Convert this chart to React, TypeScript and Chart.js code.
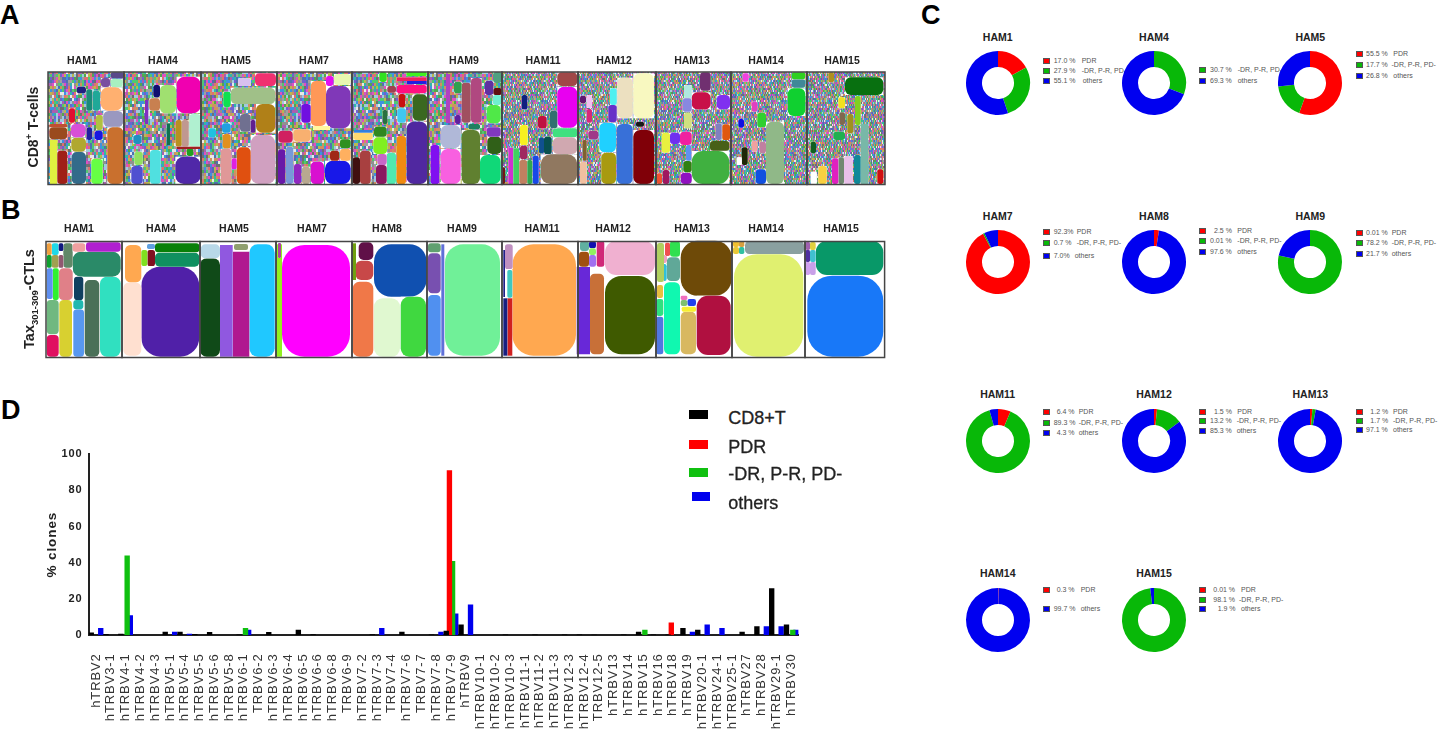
import React, { useEffect, useRef } from "react";
import { Chart, registerables } from "chart.js";

Chart.register(...registerables);

const FONT = '"Liberation Sans", Arial, sans-serif';

/* ---------- Panel D: TRBV usage ---------- */
const trbvLabels = ["hTRBV2","hTRBV3-1","hTRBV4-1","hTRBV4-2","hTRBV4-3","hTRBV5-1","hTRBV5-4","hTRBV5-5","hTRBV5-6","hTRBV5-8","hTRBV6-1","TRBV6-2","hTRBV6-3","hTRBV6-4","hTRBV6-5","hTRBV6-6","hTRBV6-8","TRBV6-9","hTRBV7-2","hTRBV7-3","TRBV7-4","hTRBV7-6","TRBV7-7","hTRBV7-8","hTRBV7-9","hTRBV9","hTRBV10-1","hTRBV10-2","hTRBV10-3","hTRBV11-1","hTRBV11-2","hTRBV11-3","hTRBV12-3","hTRBV12-4","TRBV12-5","hTRBV13","hTRBV14","hTRBV15","hTRBV16","hTRBV18","hTRBV19","hTRBV20-1","hTRBV24-1","hTRBV25-1","hTRBV27","hTRBV28","hTRBV29-1","hTRBV30"];
const cd8Values =   [1.5,0.7,0.8,0,0,2,2,0.7,1.8,0,0.5,0,1.8,0,3,0.6,0,0,0,0.6,0,2,0,0.5,2.5,6,0,0,0.5,0,0.5,0,0.5,0.5,0.3,0,0.5,2,0.5,0.5,4,3,0,0,2,5,26,6];
const pdrValues =   [0,0,0,0,0,0,0,0,0,0,0,0,0,0,0,0,0,0,0,0,0,0,0,0,91,0,0,0,0,0,0,0,0,0,0,0,0,0,0,7,0,0,0,0,0,0,0,0];
const drValues =    [0,0,44,0,0,0,0,0,0,0,4,0,0,0,0,0,0,0,0,0,0,0,0,0,41,0,0,0,0,0,0,0,0,0,0,0,0,3,0,0,0,0,0,0,0,0,0,3];
const otherValues = [4,0,11,0,0,2,0.8,0,0,0,3,0,0,0,0,0,0,0,0,4,0,0,0,2,12,17,0,0,0,0,0,0,0,0,0,0,0,0,0,0,2,6,4,0,0,5,5,3];
const yTicks = [0, 20, 40, 60, 80, 100];
const seriesNames = ["CD8+T", "PDR", "-DR, P-R, PD-", "others"];
const seriesColors = ["#000000", "#ff0000", "#10c010", "#0000ee"];

/* ---------- Panel C: donuts ---------- */
const hamNames = ["HAM1","HAM4","HAM5","HAM7","HAM8","HAM9","HAM11","HAM12","HAM13","HAM14","HAM15"];
const pdrShare =   [17.0,0,55.5,92.3,2.5,0.01,6.4,1.5,1.2,0.3,0.01];
const drShare =    [27.9,30.7,17.7,0.7,0.01,78.2,89.3,13.2,1.7,0,98.1];
const otherShare = [55.1,69.3,26.8,7.0,97.6,21.7,4.3,85.3,97.1,99.7,1.9];
const donutSeries = ["PDR", "-DR, P-R, PD-", "others"];
const donutColors = ["#ff0000", "#08b808", "#0000f0"];
const donutLegendValues = [
  ["17.0 %","27.9 %","55.1 %"],[null,"30.7 %","69.3 %"],["55.5 %","17.7 %","26.8 %"],
  ["92.3%","0.7 %","7.0%"],["2.5 %","0.01 %","97.6 %"],["0.01 %","78.2 %","21.7 %"],
  ["6.4 %","89.3 %","4.3 %"],["1.5 %","13.2 %","85.3 %"],["1.2 %","1.7 %","97.1 %"],
  ["0.3 %",null,"99.7 %"],["0.01 %","98.1 %","1.9 %"],
];
const donutLayout = [
  { cx: 997.7, cy: 83.3, ty: 36.7, sq: 1042.7, val: [1053.7,1053.7,1053.7], lab: [1081.7,1081.7,1082.7], rows: [61.3,71.3,81.3] },
  { cx: 1154, cy: 83.3, ty: 36.7, sq: 1199.3, val: [1210,1210,1210], lab: [1237.7,1237.7,1237.7], rows: [0,70.3,81] },
  { cx: 1310.3, cy: 83.3, ty: 36.7, sq: 1355.7, val: [1366,1366,1366], lab: [1393.3,1391.5,1393.3], rows: [54,64.7,76.3] },
  { cx: 997.7, cy: 262.3, ty: 215.7, sq: 1042.7, val: [1053.7,1053.7,1053.7], lab: [1076.7,1076.7,1074.7], rows: [232,243.3,255.7] },
  { cx: 1154, cy: 262.3, ty: 215.7, sq: 1199.3, val: [1214,1210,1210], lab: [1237.3,1237.3,1237.3], rows: [230.7,241,251.7] },
  { cx: 1310.3, cy: 262.3, ty: 215.7, sq: 1355.7, val: [1366,1366,1366], lab: [1391.7,1391.7,1391.7], rows: [232.7,243.3,254] },
  { cx: 997.7, cy: 441, ty: 394, sq: 1042.7, val: [1056.7,1053.7,1056.7], lab: [1078.7,1078.7,1078.7], rows: [412.3,422.7,433.3] },
  { cx: 1154, cy: 441, ty: 394, sq: 1199.3, val: [1214,1210,1210], lab: [1237.3,1236.7,1236.7], rows: [412,421.3,430.7] },
  { cx: 1310.3, cy: 441, ty: 394, sq: 1355.7, val: [1370.3,1370.3,1366], lab: [1393,1393,1393], rows: [412,421,430.3] },
  { cx: 997.7, cy: 620, ty: 572.7, sq: 1042.7, val: [1056.7,1053.7,1053.7], lab: [1080.7,1080.7,1080.7], rows: [590,0,609.3] },
  { cx: 1154, cy: 620, ty: 572.7, sq: 1199.3, val: [1213.3,1213.3,1217.7], lab: [1241,1239,1241], rows: [590,599.7,609.3] },
];

/* ---------- Panels A and B: treemap tiles [x0, y0, x1, y1, colour] ---------- */
type Tile = [number, number, number, number, string];

const a_HAM1: Tile[] = [[110.7,72.3,124,78.3,"#5a4a8a"],[101,78,110,87,"#7a4fa0"],[110.7,79,122.7,87.3,"#a8f0c0"],[100.7,87.3,122.7,110.7,"#ffb070"],[103.3,111,123.3,126.7,"#9a98c0"],[107.3,127.3,123.3,184,"#c9702e"],[49.3,124,67.3,128,"#c05030"],[49.3,127.3,67.3,139.3,"#9a4a1e"],[50,140,57.3,184,"#e0f040"],[57.3,150.7,67.3,184,"#a02018"],[71.7,152,86,184,"#336b8a"],[91.3,158.7,102.7,184,"#66ff44"],[71.3,137.7,86,151.7,"#b0a830"],[71,124,85.3,137.3,"#d850d8"],[86.3,89.3,92.3,110.7,"#1a8a78"],[92.7,90.7,100,110.7,"#20a898"],[69,108.3,75,122.7,"#e01030"],[86.7,127.3,92,140,"#2020a0"],[94.7,130.7,102.7,140,"#1818e0"],[76.7,86.7,86,93.3,"#202080"],[96,115,102.7,130,"#b0c040"]];
const a_HAM4: Tile[] = [[176.7,76.7,200.7,113.3,"#f000b0"],[160,85,176,113.3,"#a0e070"],[153.3,85,160,97.3,"#101070"],[149.3,98.3,160,110.7,"#c88050"],[189.3,114,200.7,146.7,"#b0f0d0"],[181.7,120,188.7,146.7,"#c09890"],[175.7,120,181.7,146.7,"#b89020"],[175.3,156.7,200.7,184,"#5028a8"],[150,150,160.7,184,"#50e0e0"],[131.3,166,142.7,184,"#5050d0"],[134.3,151.7,142.7,165,"#90e060"],[133.3,135,141.7,144,"#2090c0"],[145,100,148.3,124,"#8030c0"],[166.7,123.3,170,145,"#107050"],[186.7,148.3,193.3,156,"#20a020"],[176.7,146.7,200.7,149,"#a02020"]];
const a_HAM5: Tile[] = [[255,73.3,276,86,"#f03070"],[230.7,87.7,275.3,104,"#a0c088"],[256,104,275.3,132.7,"#b08018"],[250.7,135,275.3,184,"#d0a0c0"],[236.7,147.3,250.7,184,"#e05010"],[220.7,148.7,231.3,184,"#e09898"],[240,114,250.7,131.7,"#707090"],[222.7,134,230.7,148.3,"#e09020"],[223.3,91.7,230.7,107.3,"#10e050"],[238.3,78.3,250.7,86,"#d8c0f0"],[208.3,128.3,216,137.3,"#20c0e0"],[222,123.3,230.7,132.7,"#20a0e0"],[231.7,158.3,236.7,169.3,"#e020e0"],[250.7,120,255.3,132.7,"#602090"]];
const a_HAM7: Tile[] = [[326,86,350.7,128.3,"#8038b8"],[310.7,81,326,126,"#ff9858"],[334,74,350.7,85,"#e8f8b0"],[326,76,333.3,86,"#e010f0"],[301.3,104,310.7,122.7,"#7010e0"],[293.3,129.3,310.7,141.7,"#f8b070"],[325,160.7,350.7,184,"#1818e8"],[310.7,161.7,324,184,"#d810d0"],[294,164,301.3,184,"#9028c0"],[278,149.3,285.3,184,"#6818a8"],[286,146.7,293.3,184,"#7898d8"],[302,166.7,310,184,"#b8a890"],[330,150.7,339.3,160.7,"#a02818"],[340,148.7,350.7,160.7,"#ffb060"],[340,139.3,350.7,148,"#309020"],[278.3,130.7,292.7,142.7,"#d02060"],[313,126,330,130,"#fff8a0"]];
const a_HAM8: Tile[] = [[396.7,85,426.7,93.3,"#ff1080"],[406.7,72,426.7,76,"#40f020"],[396.7,77.3,426.7,81,"#f02060"],[406.7,81,426.7,84,"#2020e0"],[412.7,94.3,427.3,120.7,"#3a6820"],[406.7,121.7,427.3,184,"#5028a0"],[396.7,136,406,184,"#f08a10"],[386.7,152.7,396,184,"#50e8b0"],[376,165,386.7,184,"#8a1860"],[377.3,154,386.7,165,"#c868c8"],[373.3,137.3,387.3,154,"#80f020"],[374,126.7,386.7,136.7,"#308820"],[360,150.7,370.7,184,"#a84040"],[352.7,157.3,360,184,"#401010"],[353.3,132.7,372.7,140,"#ffd870"],[354,130,372.7,132.7,"#3080e0"],[397.3,108.3,406,122.7,"#40c8f0"],[398.7,94,405.3,107.3,"#c81010"],[379.3,72,386.7,82,"#30e020"],[387.3,86,396,92.7,"#a04050"],[382.7,110,387.3,124,"#2a7040"]];
const a_HAM9: Tile[] = [[461.7,82.7,470.7,122.7,"#a05060"],[471,78,481.7,122.7,"#b04880"],[486.7,105,500.7,123.3,"#50e848"],[493,72,502,83,"#50a080"],[493,88,502,95,"#601010"],[485,80.7,493.3,95,"#6030a0"],[492.7,95,501.7,105,"#70f0d0"],[461.7,130,480,184,"#608030"],[480,155,500.7,184,"#10d878"],[487.3,136.7,501.7,154,"#306018"],[486.7,127.3,500.7,136.7,"#8038c0"],[440.7,149,460.7,184,"#f860e0"],[440.7,125,460.7,148.3,"#b0b8d8"],[430.7,145,439.3,184,"#8010f0"],[446,74,450,123,"#b040c0"],[454,81.7,461.7,93.3,"#30a050"],[455,115,460.7,124,"#6020a0"],[468.3,124,480,129.3,"#208060"]];
const a_HAM11: Tile[] = [[557.3,72.3,577.3,86,"#a04848"],[557.3,86.7,577.3,127.7,"#e800f0"],[552.7,128.3,577.3,137.3,"#40e080"],[552.7,137.3,577.3,154,"#d0a8b0"],[540.7,154.3,577.3,184,"#907860"],[532.7,155.7,538.7,184,"#1848e8"],[519.3,160,527.3,184,"#c08060"],[527.3,160,532.3,184,"#30a850"],[520,125,527.7,145,"#f8f020"],[520,145.7,527.3,159.3,"#a02860"],[508.3,147.7,513.3,184,"#d030d0"],[513.3,148.3,519,184,"#40d060"],[502,167.3,505,184,"#701818"],[521.7,95,527.3,109.3,"#102080"],[538,116,546.7,128.3,"#c01040"],[550,110.7,557.3,128.3,"#307070"],[544,136.7,551.7,154,"#085050"],[539,137.3,544,153.3,"#105090"]];
const a_HAM12: Tile[] = [[633.3,73.3,654,118.3,"#f8f8c0"],[617.3,77.7,632.7,118.3,"#ece0c0"],[633.3,130,654,184,"#800008"],[616.7,124,632.7,184,"#3870d8"],[599.3,122.7,616,152.3,"#20d0ff"],[601.3,152.7,616,184,"#a89a10"],[608.3,105,616.7,122.3,"#6830c8"],[580,161.7,586.7,184,"#f0c0a0"],[580,95.7,586,103.3,"#601870"],[586.7,109,592,122.7,"#d82878"],[586.7,95,592,108,"#f0c0f0"],[588.3,130.7,598.3,139.3,"#a03888"],[582.7,140,586.7,160.7,"#806030"],[610,88.3,616.7,105,"#50f0f0"],[636,121.7,644,126.7,"#181818"]];
const a_HAM13: Tile[] = [[691.7,151,729.3,184,"#40b040"],[710,141,729.3,150.7,"#486018"],[722.3,124.3,730,140,"#e05810"],[715.7,123.3,721.7,140,"#8080c0"],[716.7,95,730,109.3,"#8030f0"],[691.7,92.3,710.7,109.3,"#c81048"],[700,72.3,710.7,90.7,"#703070"],[682.7,98.3,691.7,111.7,"#8888e0"],[684,85,691.7,97.7,"#b0e8e0"],[684,112.7,691.7,128.3,"#d0e080"],[680,131.7,691.7,145,"#f020a0"],[670,132.7,680,144,"#7030f0"],[661.7,132.7,670,152.7,"#e8f040"],[680.7,172.7,691.7,184,"#9010c0"],[683.3,161,691.7,172.3,"#308010"],[686,145,691.3,160.7,"#6090f0"],[662.7,170,669.3,184,"#a01860"],[656.7,173.3,662,184,"#f05030"]];
const a_HAM14: Tile[] = [[766,121.7,784,184,"#90b888"],[787.7,88.3,805.3,116,"#10d030"],[791.7,79.3,805.3,87.7,"#408898"],[791.7,72.3,805.3,79.3,"#30d020"],[757.3,112.7,766,127.3,"#30d030"],[755.7,169.3,766,184,"#1050e0"],[741.7,147.3,747.7,165,"#202808"],[738.3,119,744,127.7,"#1010e0"],[742.7,73.3,748.7,81.7,"#f040e0"],[751.7,101.7,757.3,111.7,"#e040c0"],[751.7,140.7,757.3,151.7,"#f0a0a0"],[759.3,141.7,766,153.3,"#c080a0"],[736.7,157.3,741.7,165,"#ffffff"]];
const a_HAM15: Tile[] = [[845,77.3,883.3,95,"#087010"],[855,96,860.7,125,"#80d020"],[860.7,124,868.3,184,"#78b8a8"],[854,155,860.7,184,"#108898"],[844,156,852.7,184,"#e8c0e8"],[838.3,157.3,844,184,"#708870"],[832,158.3,838.3,184,"#e020c0"],[818.3,166,826.7,184,"#f8d040"],[810.7,171.7,816.7,184,"#ffffff"],[877.3,169.3,883.3,184,"#d01010"],[833.3,131.7,845,140,"#20b050"],[810.7,141.7,816,153.3,"#106020"],[838.3,97.3,845,108.3,"#f0e020"],[847.3,114,853.3,133.3,"#a09020"],[839.3,112.3,845,125,"#806850"],[828.3,72.3,834,82.3,"#b09020"]];

const b_HAM1: Tile[] = [[100,276.7,120.7,356.7,"#30e0c0"],[84.7,280,99.3,356.7,"#4a7058"],[73.3,309.3,84,356.7,"#5898f0"],[59.3,300,72,356.7,"#d8d030"],[46.7,335,58.7,356.7,"#e01060"],[46.7,300,58.7,334.3,"#70b880"],[72.7,251.7,120.7,276.7,"#2a8a68"],[86,242.3,120.7,251.7,"#b020d0"],[58.7,268.3,72.7,300,"#e08088"],[52.7,268.3,58.7,300,"#30f030"],[46.7,268.3,52.7,299,"#6090f0"],[74,276.7,83.3,300,"#104060"],[73.3,300,83.3,309.3,"#20b8b0"],[63.3,243.3,72.7,267.7,"#608868"],[72.7,243.3,85.3,251.7,"#f0a0a0"],[51.7,255,58.7,267.7,"#a0a050"],[46.7,255,51.7,267.7,"#10a030"],[51.7,243.3,58.7,255,"#20d8e8"],[46.7,243.3,51.7,255,"#f0a040"],[58.7,243.3,63.3,251,"#101880"],[58.7,255,63.3,267.7,"#905870"]];
const b_HAM4: Tile[] = [[141.3,266.7,199.3,356.7,"#5020a8"],[123.3,282.3,141.3,355.7,"#ffe0d0"],[125,245,141.3,282.3,"#ffa850"],[155,252.7,199.3,266.7,"#109060"],[155,243.3,199.3,252.3,"#088008"],[147.3,250,155,266,"#801020"],[141.3,250,147.3,266,"#80e020"],[147,244,155,249,"#60a0e0"]];
const b_HAM5: Tile[] = [[249.3,244.3,274.7,356.7,"#20c8ff"],[232.7,251.7,249.3,356.7,"#b01890"],[220,245,232.7,356.7,"#9058e0"],[200,258.3,220,356.7,"#104a18"],[200.7,244.3,220,258.3,"#b8d8e8"],[234,244,248,250,"#90a070"]];
const b_HAM7: Tile[] = [[282,245,350,356.7,"#ff00ff"],[276,244.3,282,356.7,"#90f020"],[278,243,281,258,"#b040a0"]];
const b_HAM8: Tile[] = [[374,244.3,426.7,296.7,"#1050b0"],[358.7,242.3,373.3,260,"#601048"],[355.3,260.7,373.3,280,"#c84848"],[352.7,281.7,373.3,356.7,"#f07848"],[374,298.3,400,356.7,"#e0f8d0"],[400.7,296.7,426,356.7,"#40d840"],[352,243.3,356,280,"#70a010"]];
const b_HAM9: Tile[] = [[445,244.3,500,355.7,"#70f098"],[428,295,440.7,355.7,"#5090f0"],[428,253.3,440.7,293.3,"#7850b0"],[428,243.3,440.7,252.3,"#60a070"],[441.3,244.3,444.3,355.7,"#6070d8"]];
const b_HAM11: Tile[] = [[512.3,244.3,576,355.7,"#ffa850"],[507.3,298.3,512.3,355.7,"#d02020"],[503.3,298.3,507.3,355.7,"#182080"],[507.3,270,512.3,297.7,"#40c8c0"],[505,244.3,512.7,269,"#c090c0"],[503.3,250,505,297,"#202088"]];
const b_HAM12: Tile[] = [[605,276,655,354.3,"#3f5a00"],[605,241,655,275,"#f0b0d0"],[590,273.7,604,354.3,"#c87038"],[576.7,266.7,590,354.3,"#6828d8"],[596.7,241,604.3,266.7,"#d02878"],[579,251.7,589,266.7,"#a05010"],[589,255,596,266.7,"#a070f0"],[589,241,596,248.3,"#1010b0"],[589,248.3,596,255,"#90f060"],[580,241,589,251,"#60b0a0"]];
const b_HAM13: Tile[] = [[680.7,240.7,731.7,295.7,"#6e4a08"],[696.7,295.7,730.7,355,"#b01040"],[680.7,311.7,696,354.3,"#d8b860"],[681.7,306.7,696,311.7,"#f8f030"],[664,282.3,680,354.3,"#10f8b0"],[656,316.7,663.3,354.3,"#5078e0"],[656,299,663.3,316,"#30e080"],[666.7,257.3,680,281,"#60a898"],[670,241,680,256.7,"#30e050"],[660,264,666.7,281,"#30c0d8"],[660,255,667,263,"#f0a0c0"],[665,242.7,670,256,"#f05050"],[687.3,299,696,306,"#2040f0"],[680.7,300,687.3,306,"#80c070"],[680.7,295.7,687.3,300,"#f070c0"],[657,243,664,282,"#b0d060"],[657,285,663,298,"#e8c040"]];
const b_HAM14: Tile[] = [[734,254.3,803.3,356.7,"#e0f070"],[745,241,804,254,"#8aa0a0"],[733,241,739,247,"#f0c030"],[739,241,744.3,247,"#d8a040"],[733,247,739,254,"#e8c838"],[739,247,744.3,254,"#30c0a0"]];
const b_HAM15: Tile[] = [[807.3,275.7,883.3,356.7,"#1878f8"],[815.7,241,883.3,275,"#089868"],[805.5,242,810,250,"#a060b0"],[810,242,815.7,250,"#e0d040"],[805.5,250,810,262,"#5030a0"],[810,250,815.7,262,"#40c0d0"],[805.5,262,810,275,"#d0a0f0"],[810,262,815.7,275,"#c8a0e8"]];

const rowA = [a_HAM1,a_HAM4,a_HAM5,a_HAM7,a_HAM8,a_HAM9,a_HAM11,a_HAM12,a_HAM13,a_HAM14,a_HAM15];
const rowB = [b_HAM1,b_HAM4,b_HAM5,b_HAM7,b_HAM8,b_HAM9,b_HAM11,b_HAM12,b_HAM13,b_HAM14,b_HAM15];
const rowAEdges = [48,124,201,277,352,428,502,578,656,731,807,885];
const rowBEdges = [46,122,200,276,352,427,502,578,656,732,805,884.6];
const rowATitleX = [82,163,236,314,388,464,543,614,692,766,842];
const rowBTitleX = [79,161,234,312,387,462,542,613,692,766,841];
const rowATexture = ["coarse","coarse","coarse","coarse","coarse","coarse","fine","fine","fine","fine","fine"];

/* texture standing in for the thousands of unreadable tiny clones: a style, not data */
const mosaicPalette = ["#e050c0","#4090e0","#50c870","#a0a0a0","#d09060","#7060d0","#30b8a8","#e8e8e8","#b8b850","#909090","#e07070","#5070b0","#a860b0","#50a850","#a0c8e0","#707070"];
function makeTexture(cw: number, ch: number, blur: number) {
  const size = 120;
  const c = document.createElement("canvas");
  c.width = size; c.height = size;
  const g = c.getContext("2d")!;
  g.filter = `blur(${blur}px)`;
  let s = 20231;
  for (let y = 0; y < size; y += ch) {
    for (let x = 0; x < size; x += cw) {
      s = (s * 1103515245 + 12345) & 0x7fffffff;
      g.fillStyle = mosaicPalette[(s >> 16) & 15];
      g.fillRect(x, y, cw, ch);
    }
  }
  return c;
}

const tilePlugin = {
  id: "tiles",
  beforeDatasetsDraw(chart: any) {
    const ctx = chart.ctx;
    const sx = chart.scales.x, sy = chart.scales.y;
    const o = chart.options.plugins.tiles;
    ctx.save();
    chart.data.datasets.forEach((ds: any, i: number) => {
      const px0 = sx.getPixelForValue(o.edges[i]);
      const px1 = sx.getPixelForValue(o.edges[i + 1]);
      const top = sy.getPixelForValue(o.top);
      const bottom = sy.getPixelForValue(o.bottom);
      if (o.textures) {
        ctx.fillStyle = ctx.createPattern(o.textures[o.kinds[i]], "repeat");
        ctx.fillRect(px0, top, px1 - px0, bottom - top);
      }
      ds.data.forEach((t: any) => {
        const x = sx.getPixelForValue(t.a), y = sy.getPixelForValue(t.b);
        const w = sx.getPixelForValue(t.c) - x, h = sy.getPixelForValue(t.d) - y;
        const short = Math.min(w, h), long = Math.max(w, h);
        ctx.fillStyle = "#ffffff";
        ctx.fillRect(x, y, w, h);
        ctx.fillStyle = t.col;
        ctx.beginPath();
        ctx.roundRect(x, y, w, h, long / short > 6 ? 0 : short * 0.33);
        ctx.fill();
      });
    });
    ctx.strokeStyle = "#454545";
    ctx.lineWidth = 1.5;
    for (let i = 0; i < o.names.length; i++) {
      const px0 = sx.getPixelForValue(o.edges[i]);
      const px1 = sx.getPixelForValue(o.edges[i + 1]);
      const top = sy.getPixelForValue(o.top);
      const bottom = sy.getPixelForValue(o.bottom);
      ctx.strokeRect(px0, top, px1 - px0, bottom - top);
    }
    ctx.fillStyle = "#222";
    ctx.font = `bold 10.5px ${FONT}`;
    ctx.textAlign = "center";
    ctx.textBaseline = "middle";
    o.names.forEach((n: string, i: number) => {
      ctx.fillText(n, sx.getPixelForValue(o.titleX[i]), sy.getPixelForValue(o.titleY));
    });
    ctx.restore();
  },
};

function TreemapRow(props: { rows: Tile[][]; edges: number[]; titleX: number[]; titleY: number; top: number; bottom: number; yMin: number; yMax: number; textured: boolean }) {
  const ref = useRef<HTMLCanvasElement>(null);
  useEffect(() => {
    const textures = props.textured ? { coarse: makeTexture(2, 3, 0.6), fine: makeTexture(1, 2, 0.7) } : null;
    const chart = new Chart(ref.current!, {
      type: "scatter",
      plugins: [tilePlugin as any],
      data: {
        datasets: props.rows.map((tiles, i) => ({
          label: hamNames[i],
          data: tiles.map(([a, b, c, d, col]) => ({ x: (a + c) / 2, y: (b + d) / 2, a, b, c, d, col })),
          pointRadius: 0,
        })) as any,
      },
      options: {
        responsive: false,
        animation: false,
        layout: { padding: 0 },
        events: [],
        scales: {
          x: { type: "linear", display: false, min: 0, max: 900 },
          y: { type: "linear", display: false, min: props.yMin, max: props.yMax, reverse: true },
        },
        plugins: {
          legend: { display: false },
          tooltip: { enabled: false },
          tiles: { edges: props.edges, names: hamNames, titleX: props.titleX, titleY: props.titleY, top: props.top, bottom: props.bottom, textures, kinds: rowATexture },
        } as any,
      },
    });
    return () => chart.destroy();
  }, []);
  return <canvas ref={ref} width={900} height={props.yMax - props.yMin} style={{ position: "absolute", left: 0, top: props.yMin, filter: "blur(0.35px)" }} />;
}

function Donut({ index }: { index: number }) {
  const ref = useRef<HTMLCanvasElement>(null);
  const lay = donutLayout[index];
  useEffect(() => {
    const chart = new Chart(ref.current!, {
      type: "doughnut",
      data: {
        labels: donutSeries,
        datasets: [{
          data: [pdrShare[index], drShare[index], otherShare[index]],
          backgroundColor: donutColors,
          borderWidth: 0,
        }],
      },
      options: {
        responsive: false,
        animation: false,
        cutout: "50%",
        radius: 32,
        layout: { padding: 0 },
        events: [],
        plugins: { legend: { display: false }, tooltip: { enabled: false } },
      },
    });
    return () => chart.destroy();
  }, []);
  const small: React.CSSProperties = { position: "absolute", font: `7px ${FONT}`, color: "#555", whiteSpace: "pre", lineHeight: "8px", transform: "translateY(-50%)" };
  return (
    <>
      <canvas ref={ref} width={66} height={66} style={{ position: "absolute", left: lay.cx - 33, top: lay.cy - 33 }} />
      <div style={{ position: "absolute", left: lay.cx - 40, width: 80, textAlign: "center", top: lay.ty, transform: "translateY(-50%)", font: `bold 10.5px ${FONT}`, color: "#222" }}>{hamNames[index]}</div>
      {donutSeries.map((name, j) => {
        const value = donutLegendValues[index][j];
        if (value === null) return null;
        return (
          <React.Fragment key={name}>
            <div style={{ position: "absolute", left: lay.sq, top: lay.rows[j] - 3, width: 7, height: 6, boxSizing: "border-box", background: donutColors[j], border: "0.5px solid #555" }} />
            <div style={{ ...small, left: lay.val[j], top: lay.rows[j] }}>{value}</div>
            <div style={{ ...small, left: lay.lab[j], top: lay.rows[j] }}>{name}</div>
          </React.Fragment>
        );
      })}
    </>
  );
}

const spacedText = {
  id: "spacedText",
  beforeDraw(chart: any) { chart.ctx.letterSpacing = "0.9px"; },
  afterDraw(chart: any) { chart.ctx.letterSpacing = "0px"; },
};

function BarPanel() {
  const ref = useRef<HTMLCanvasElement>(null);
  useEffect(() => {
    const values = [cd8Values, pdrValues, drValues, otherValues];
    const chart = new Chart(ref.current!, {
      type: "bar",
      plugins: [spacedText as any],
      data: {
        labels: trbvLabels,
        datasets: seriesNames.map((label, i) => ({
          label,
          data: values[i],
          backgroundColor: seriesColors[i],
          categoryPercentage: 0.853,
          barPercentage: 1.7,
          borderWidth: 0,
        })),
      },
      options: {
        responsive: false,
        animation: false,
        events: [],
        layout: { padding: { left: 0, right: 17.6, top: 14, bottom: 0 } },
        scales: {
          x: {
            offset: true,
            grid: { display: false, drawTicks: true, tickLength: 5, tickColor: "#222", tickWidth: 1.5 } as any,
            border: { display: true, color: "#222", width: 2 },
            ticks: { autoSkip: false, minRotation: 90, maxRotation: 90, padding: 13, color: "#333", font: { family: FONT, size: 13 } },
            afterFit: (s: any) => { s.height = 93.7; },
          } as any,
          y: {
            min: 0,
            max: 100,
            afterBuildTicks: (s: any) => { s.ticks = yTicks.map((value) => ({ value })); },
            grid: { display: false, tickLength: 5, tickColor: "#222", tickWidth: 1.5 } as any,
            border: { display: true, color: "#222", width: 2 },
            ticks: { padding: 1, color: "#222", font: { family: FONT, size: 11, weight: "bold" } },
            title: { display: true, text: "% clones", color: "#222", padding: { top: 44, bottom: 0 }, font: { family: FONT, size: 13.5, weight: "bold" } },
            afterFit: (s: any) => { s.width = 88.6; },
          } as any,
        },
        plugins: { legend: { display: false }, tooltip: { enabled: false } },
      },
    });
    return () => chart.destroy();
  }, []);
  return <canvas ref={ref} width={820} height={289} style={{ position: "absolute", left: 0, top: 440, filter: "blur(0.25px)" }} />;
}

const legendSwatches = [{ x: 689.3, y: 414 }, { x: 689.3, y: 444.3 }, { x: 689.3, y: 472 }, { x: 691.7, y: 496.7 }];
const legendTextY = [418.3, 447.3, 474, 503.3];
const panelLetters = [{ t: "A", x: 0, y: 15 }, { t: "B", x: 1, y: 210 }, { t: "C", x: 921, y: 15 }, { t: "D", x: 1, y: 410 }];

export default function App() {
  const letter: React.CSSProperties = { position: "absolute", font: `bold 27px ${FONT}`, color: "#000", transform: "translateY(-50%)", lineHeight: "30px" };
  const rotated: React.CSSProperties = { position: "absolute", font: `bold 14px ${FONT}`, color: "#222", whiteSpace: "nowrap", transform: "translate(-50%,-50%) rotate(-90deg)" };
  return (
    <div style={{ position: "absolute", left: 0, top: 0, width: 1438, height: 729, background: "#fff", overflow: "hidden", fontFamily: FONT }}>
      {panelLetters.map((p) => <div key={p.t} style={{ ...letter, left: p.x, top: p.y }}>{p.t}</div>)}
      <TreemapRow rows={rowA} edges={rowAEdges} titleX={rowATitleX} titleY={61} top={72} bottom={184.5} yMin={50} yMax={190} textured />
      <TreemapRow rows={rowB} edges={rowBEdges} titleX={rowBTitleX} titleY={229} top={241.5} bottom={357.5} yMin={215} yMax={365} textured={false} />
      <div style={{ ...rotated, left: 33, top: 127 }}>CD8<sup style={{ fontSize: 9, lineHeight: 0 }}>+</sup> T-cells</div>
      <div style={{ ...rotated, left: 29, top: 299, fontSize: 14.5 }}>Tax<sub style={{ fontSize: 9.5, lineHeight: 0 }}>301-309</sub>-CTLs</div>
      {hamNames.map((n, i) => <Donut key={n} index={i} />)}
      <BarPanel />
      {seriesNames.map((name, i) => (
        <React.Fragment key={name}>
          <div style={{ position: "absolute", left: legendSwatches[i].x, top: legendSwatches[i].y - 4.5, width: 18.5, height: 9, background: seriesColors[i] }} />
          <div style={{ position: "absolute", left: 728.3, top: legendTextY[i], transform: "translateY(-50%)", font: `18px ${FONT}`, color: "#222", whiteSpace: "nowrap", WebkitTextStroke: "0.3px #222" }}>{name}</div>
        </React.Fragment>
      ))}
    </div>
  );
}
